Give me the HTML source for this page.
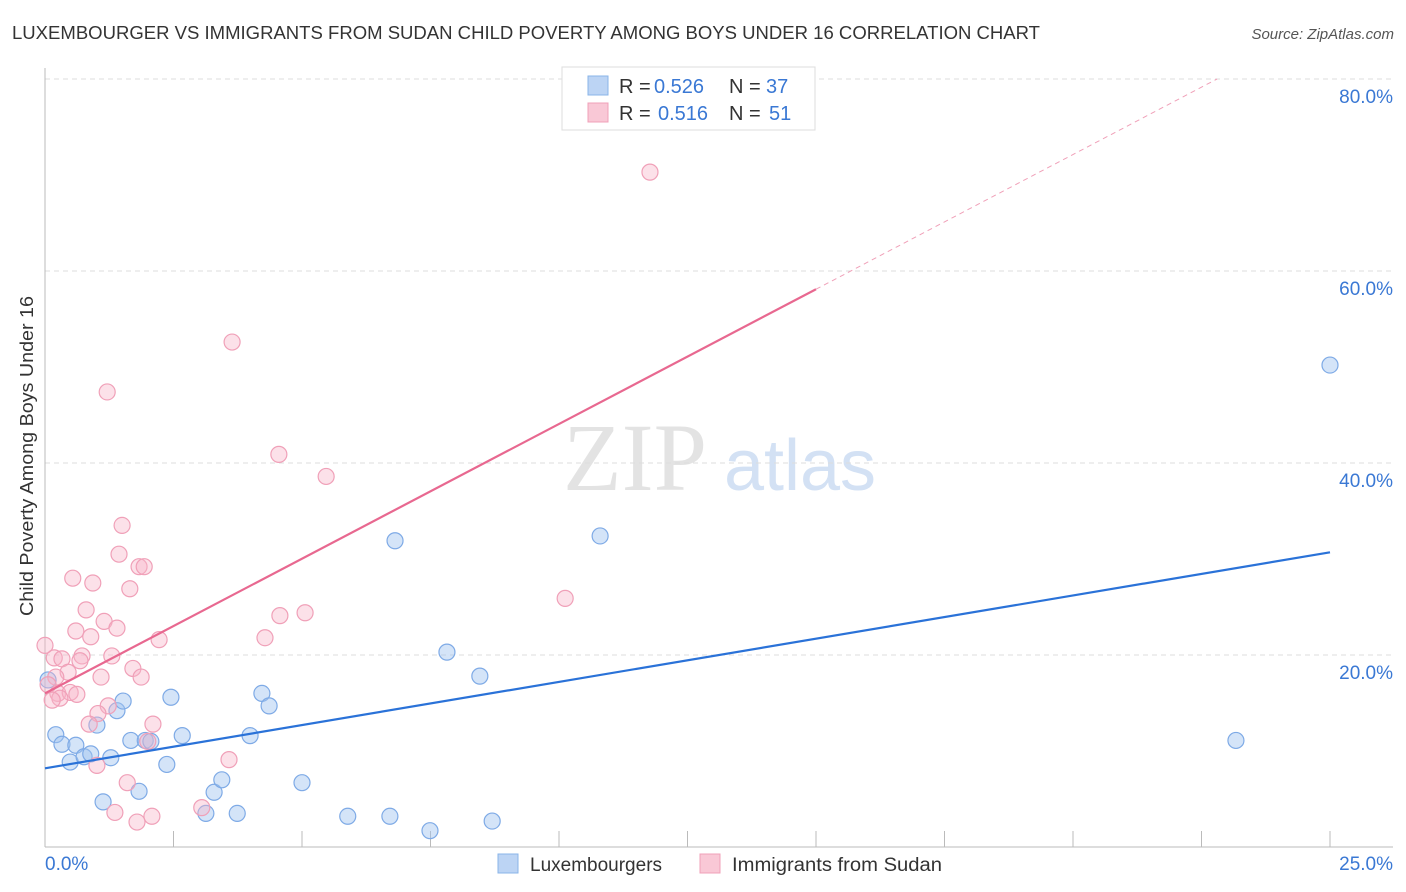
<!DOCTYPE html>
<html><head><meta charset="utf-8"><style>
body{margin:0;background:#fff;font-family:"Liberation Sans",sans-serif;}
svg{display:block}
</style></head><body>
<svg id="c" width="1406" height="892" xmlns="http://www.w3.org/2000/svg">
<text x="12" y="39" font-size="18" fill="#333" textLength="1028" lengthAdjust="spacingAndGlyphs">LUXEMBOURGER VS IMMIGRANTS FROM SUDAN CHILD POVERTY AMONG BOYS UNDER 16 CORRELATION CHART</text>
<text x="1394" y="39" font-size="15" fill="#555" font-style="italic" text-anchor="end">Source: ZipAtlas.com</text>
<text x="33" y="456" font-size="18" fill="#333" text-anchor="middle" textLength="320" lengthAdjust="spacingAndGlyphs" transform="rotate(-90 33 456)">Child Poverty Among Boys Under 16</text>
<g opacity="0.5">
<text x="635" y="490" font-size="96" font-family="Liberation Serif,serif" fill="#c8c8c8" text-anchor="middle">ZIP</text>
<text x="800" y="490" font-size="72" fill="#a8c4ea" text-anchor="middle">atlas</text>
</g>
<g id="grid"></g><g id="ticks"></g><g id="pts"></g><g id="lines"></g>
<g font-size="20">
<rect x="562" y="67" width="253" height="63" fill="#fff" stroke="#ddd"/>
<rect x="588" y="76" width="20" height="19" fill="#bcd4f4" stroke="#8ab4e8"/>
<text x="619" y="93" fill="#333">R =</text><text x="654" y="93" fill="#3a78d4">0.526</text>
<text x="729" y="93" fill="#333">N =</text><text x="766" y="93" fill="#3a78d4">37</text>
<rect x="588" y="103" width="20" height="19" fill="#f9c8d6" stroke="#f0a0b8"/>
<text x="619" y="120" fill="#333">R =</text><text x="658" y="120" fill="#3a78d4">0.516</text>
<text x="729" y="120" fill="#333">N =</text><text x="769" y="120" fill="#3a78d4">51</text>
</g>
<g>
<rect x="498" y="854" width="20" height="19" fill="#bcd4f4" stroke="#8ab4e8"/>
<text x="530" y="871" font-size="19" fill="#333">Luxembourgers</text>
<rect x="700" y="854" width="20" height="19" fill="#f9c8d6" stroke="#f0a0b8"/>
<text x="732" y="871" font-size="19" fill="#333" textLength="210" lengthAdjust="spacingAndGlyphs">Immigrants from Sudan</text>
</g>
</svg>
<script>
const yTicks=[20,40,60,80];
const xTickLabels=["0.0%","25.0%"];
const blueX=[25.0,10.8,6.81,7.82,8.46,23.17,0.21,0.33,0.49,0.60,0.76,0.89,1.01,1.28,1.40,1.52,1.13,1.83,1.67,1.95,2.06,2.37,2.45,2.67,3.13,3.29,3.44,3.74,3.99,4.22,4.36,5.0,5.89,6.71,7.49,8.70,0.06];
const blueY=[50.2,32.4,31.9,20.3,17.8,11.1,11.7,10.7,8.85,10.6,9.4,9.7,12.7,9.3,14.2,15.2,4.7,5.8,11.1,11.1,11.0,8.6,15.6,11.6,3.5,5.7,7.0,3.5,11.6,16.0,14.7,6.7,3.2,3.2,1.7,2.7,17.4];
const pinkX=[11.77,3.64,1.21,4.55,5.47,1.50,1.44,0.54,0.93,1.83,1.93,1.65,10.12,0.80,4.57,5.06,1.15,1.40,0.60,0.89,2.22,4.28,0,0.18,0.33,0.72,1.30,0.68,1.71,0.45,1.09,1.87,0.21,0.06,0.25,0.49,0.62,0.29,0.14,1.23,1.03,0.86,2.10,2.00,3.58,1.01,1.60,3.05,1.36,2.08,1.79];
const pinkY=[70.3,52.6,47.4,40.9,38.6,33.5,30.5,28.0,27.5,29.2,29.2,26.9,25.9,24.7,24.1,24.4,23.5,22.8,22.5,21.9,21.6,21.8,21.0,19.7,19.6,19.9,19.9,19.4,18.6,18.2,17.7,17.7,17.7,16.9,16.0,16.1,15.9,15.5,15.3,14.7,13.9,12.8,12.8,11.0,9.1,8.5,6.7,4.1,3.6,3.2,2.6];
const blueFit=[8.2,30.7];
const pinkFit=[16.0,58.1];
const pinkFitEndX=15;
const NS="http://www.w3.org/2000/svg";
const X=v=>45+v*51.4, Y=v=>847-v*9.6;
function mk(t,a,p){const e=document.createElementNS(NS,t);for(const k in a)e.setAttribute(k,a[k]);document.getElementById(p).appendChild(e);return e;}
yTicks.forEach(t=>{
 const g=mk('line',{x1:45,x2:1393,y1:Y(t),y2:Y(t),stroke:'#ddd','stroke-dasharray':'5,4'},'grid');
 
 
 const l=mk('text',{x:1393,y:Y(t)+24,'font-size':19,fill:'#3a78d4','text-anchor':'end'},'ticks');
 l.textContent=t.toFixed(1)+'%';
 
 
});
const ax=mk('line',{x1:45,x2:1393,y1:847,y2:847,stroke:'#bbb'},'ticks');


const ay=mk('line',{x1:45,x2:45,y1:68,y2:847,stroke:'#bbb'},'ticks');


for(let i=0;i<=10;i++){const tk=mk('line',{x1:X(i*2.5),x2:X(i*2.5),y1:831,y2:847,stroke:'#bbb'},'ticks');
 
 }
[[xTickLabels[0],45,'start'],[xTickLabels[1],1393,'end']].forEach(a=>{
 const l=mk('text',{x:a[1],y:870,'font-size':19,fill:'#3a78d4','text-anchor':a[2]},'ticks');l.textContent=a[0];
 
 });
blueX.forEach((v,i)=>{const c=mk('circle',{cx:X(v),cy:Y(blueY[i]),r:8,fill:'rgba(160,196,240,0.45)',stroke:'#7eaae6','stroke-width':1.2},'pts');
 
 });
pinkX.forEach((v,i)=>{const c=mk('circle',{cx:X(v),cy:Y(pinkY[i]),r:8,fill:'rgba(248,180,200,0.4)',stroke:'#f0a0b8','stroke-width':1.2},'pts');
 
 });
const b=mk('line',{x1:X(0),y1:Y(blueFit[0]),x2:X(25),y2:Y(blueFit[1]),stroke:'#2a72d8','stroke-width':2.2},'lines');


const slope=(pinkFit[1]-pinkFit[0])/pinkFitEndX;
const p=mk('line',{x1:X(0),y1:Y(pinkFit[0]),x2:X(pinkFitEndX),y2:Y(pinkFit[1]),stroke:'#e86890','stroke-width':2.2},'lines');


const xe=(80-pinkFit[0])/slope;
const pd=mk('line',{x1:X(pinkFitEndX),y1:Y(pinkFit[1]),x2:X(xe),y2:Y(80),stroke:'#f0a0b8','stroke-width':1,'stroke-dasharray':'5,4'},'lines');


</script>
</body></html>
